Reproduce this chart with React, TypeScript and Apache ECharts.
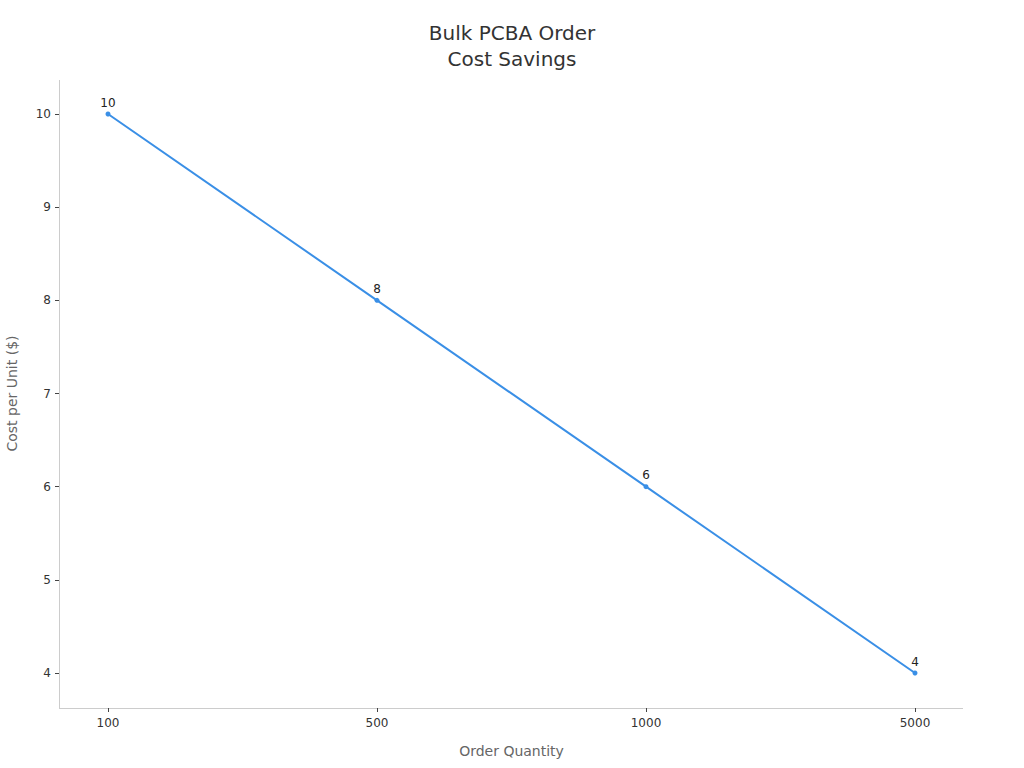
import React, { useEffect, useRef } from "react";
import * as echarts from "echarts";

const quantities = ["100", "500", "1000", "5000"];
const costPerUnit = [10, 8, 6, 4];
const yMin = 4;
const yMax = 10;

const FONT = "DejaVu Sans";

const App: React.FC = () => {
  const chartRef = useRef<HTMLDivElement>(null);

  useEffect(() => {
    if (!chartRef.current) return;
    const chart = echarts.init(chartRef.current, undefined, { renderer: "svg" });

    const option: echarts.EChartsOption = {
      animation: false,
      backgroundColor: "#fff",
      textStyle: { fontFamily: FONT },
      title: {
        text: "Bulk PCBA Order\nCost Savings",
        left: "center",
        top: 15,
        textStyle: {
          fontFamily: FONT,
          fontSize: 20,
          fontWeight: "normal",
          color: "#333",
          lineHeight: 26,
        },
      },
      grid: {
        left: 108,
        right: 109,
        top: 114,
        bottom: 95,
        containLabel: false,
        outerBoundsMode: "none",
      } as any,
      xAxis: {
        type: "category",
        data: quantities,
        boundaryGap: false,
        offset: 35,
        name: "Order Quantity",
        nameLocation: "middle",
        nameGap: 36,
        nameTextStyle: { fontFamily: FONT, fontSize: 14, color: "#666" },
        axisLine: { show: true, lineStyle: { color: "#ccc", opacity: 0 } },
        axisTick: { show: true, length: 4, lineStyle: { color: "#444", opacity: 1 } },
        axisLabel: { fontFamily: FONT, fontSize: 12, color: "#333", margin: 9 },
        splitLine: { show: false },
      },
      yAxis: {
        type: "value",
        min: yMin,
        max: yMax,
        interval: 1,
        offset: 49,
        name: "Cost per Unit ($)",
        nameLocation: "middle",
        nameGap: 40,
        nameTextStyle: { fontFamily: FONT, fontSize: 14, color: "#666" },
        axisLine: { show: true, lineStyle: { color: "#ccc", opacity: 0 } },
        axisTick: { show: true, length: 4, lineStyle: { color: "#444", opacity: 1 } },
        axisLabel: { fontFamily: FONT, fontSize: 12, color: "#333", margin: 8 },
        splitLine: { show: false },
      },
      graphic: [
        {
          type: "line",
          shape: { x1: 59.5, y1: 80, x2: 59.5, y2: 708 },
          style: { stroke: "#ccc", lineWidth: 1 },
          silent: true,
        },
        {
          type: "line",
          shape: { x1: 59, y1: 708.5, x2: 963, y2: 708.5 },
          style: { stroke: "#ccc", lineWidth: 1 },
          silent: true,
        },
      ],
      series: [
        {
          type: "line",
          data: costPerUnit,
          symbol: "circle",
          symbolSize: 5,
          lineStyle: { color: "#3a8fe6", width: 2 },
          itemStyle: { color: "#3a8fe6" },
          label: {
            show: true,
            position: "top",
            distance: 3,
            fontFamily: FONT,
            fontSize: 12,
            color: "#222",
          },
        },
      ],
    };

    chart.setOption(option);
    return () => {
      chart.dispose();
    };
  }, []);

  return (
    <div
      ref={chartRef}
      style={{ position: "fixed", left: 0, top: 0, width: 1024, height: 768 }}
    />
  );
};

export default App;
